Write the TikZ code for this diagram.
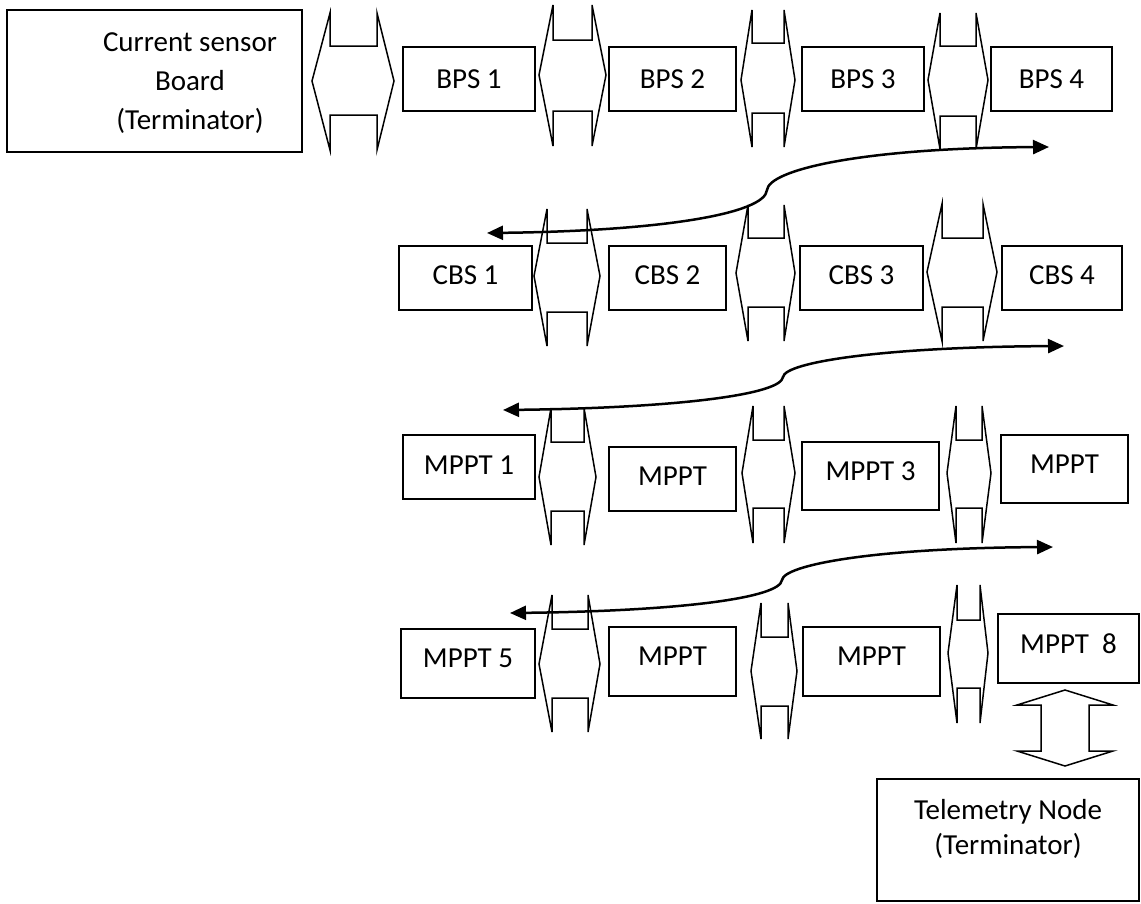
\documentclass[tikz,border=0pt]{standalone}
\usepackage{fontspec}
\setmainfont{Carlito}
\usetikzlibrary{arrows.meta,calc}

\begin{document}
\begin{tikzpicture}[x=1pt,y=-1pt,
	box/.style args={#1x#2}{draw,line width=1.8pt,inner sep=0pt,minimum width=#1,minimum height=#2},
	raised/.style={text depth=#1},
	link/.style={line width=1.5pt},
	bus/.style={line width=2.5pt,{Triangle[length=16pt,width=14pt]}-{Triangle[length=16pt,width=14pt]}},
	every node/.style={font=\fontsize{29}{39}\selectfont}]
				  \useasboundingbox (0,0) rectangle (1141,903);
				  %TERMINATOR AND BPS ROW
				  \node[box=295x142] (csb) at (154.5,81) {};
				  \node[align=center] (csbtext) at (190,83) {Current sensor\\Board\\(Terminator)};
				  \node[box=132x64] (bps1) at (469,79) {BPS 1};
				  \node[box=127x64] (bps2) at (672.5,79) {BPS 2};
				  \node[box=122x64] (bps3) at (863,79) {BPS 3};
				  \node[box=121x64] (bps4) at (1051.5,79) {BPS 4};
				  %CBS ROW
				  \node[box=133x64,raised=5pt] (cbs1) at (465.5,278) {CBS 1};
				  \node[box=117x64,raised=5pt] (cbs2) at (667.5,278) {CBS 2};
				  \node[box=123x64,raised=5pt] (cbs3) at (861.5,278) {CBS 3};
				  \node[box=120x64,raised=5pt] (cbs4) at (1062,278) {CBS 4};
				  %MPPT ROWS
				  \node[box=132x64,raised=3pt] (mppt1) at (469,467) {MPPT 1};
				  \node[box=127x64,raised=5pt] (mppt2) at (672.5,479) {MPPT};
				  \node[box=137x68,raised=9pt] (mppt3) at (870.5,476) {MPPT 3};
				  \node[box=127x68,raised=9pt] (mppt4) at (1064.5,469) {MPPT};
				  \node[box=134x69,raised=10pt] (mppt5) at (468,663.5) {MPPT 5};
				  \node[box=127x69,raised=10pt] (mppt6) at (672.5,661.5) {MPPT};
				  \node[box=137x69,raised=10pt] (mppt7) at (871.5,661.5) {MPPT};
				  \node[box=141x69,raised=10pt] (mppt8) at (1068.5,648.5) {MPPT\ \ 8};
				  %TELEMETRY
				  \node[box=262x122] (tel) at (1008,840) {};
				  \node[align=center] (teltext) at (1008,829) {Telemetry Node\\[-4pt](Terminator)};
				  %LEFT-RIGHT LINKS
				  \foreach \xa/\xb/\xc/\xd/\ym/\ya/\yb/\yc/\yd in {
					312/330/377/394/81/13/46/115/150, 539/553/592/606/75/5/40/111/146,
					741/752/784/795/80/10/43/113/147, 928/940/976/988/80/13/46/116/149,
					534/547/587/600/276/209/243/312/346, 736/748/784/795/273/205/238/307/341,
					927/942/983/997/272/204/238/307/341,
					539/551/584/596/477/408/442/511/545, 742/753/784/795/473/406/440/508/543,
					947/956/982/991/473/406/440/508/543,
					539/552/588/600/664/595/629/698/732, 751/761/788/797/671/603/637/706/739,
					948/957/980/988/653/585/620/688/723}
					\draw[link] (\xa,\ym) -- (\xb,\ya) -- (\xb,\yb) -- (\xc,\yb) -- (\xc,\ya) -- (\xd,\ym)
						-- (\xc,\yd) -- (\xc,\yc) -- (\xb,\yc) -- (\xb,\yd) -- cycle;
				  %UP-DOWN LINK
				  \draw[link] (1065,690) -- (1113,705) -- (1089,705) -- (1089,751) -- (1113,751) -- (1065,766)
					-- (1017,751) -- (1041,751) -- (1041,705) -- (1017,705) -- cycle;
				  %BUS CURVES
				  \coordinate (l1) at (487,233); \coordinate (k1) at (767,190); \coordinate (r1) at (1049,147);
				  \coordinate (l2) at (503,410); \coordinate (k2) at (783,377); \coordinate (r2) at (1064,346);
				  \coordinate (l3) at (510,613); \coordinate (k3) at (782,580); \coordinate (r3) at (1053,547);
				  \draw[bus] (l1) .. controls +(173,-2) and +(-2,24) .. (k1) .. controls +(2,-20) and +(-189,1) .. (r1);
				  \draw[bus] (l2) .. controls +(170,-2) and +(-2,18) .. (k2) .. controls +(2,-15) and +(-180,1) .. (r2);
				  \draw[bus] (l3) .. controls +(170,-2) and +(-2,18) .. (k3) .. controls +(2,-15) and +(-180,1) .. (r3);
				  \end{tikzpicture}
\end{document}
